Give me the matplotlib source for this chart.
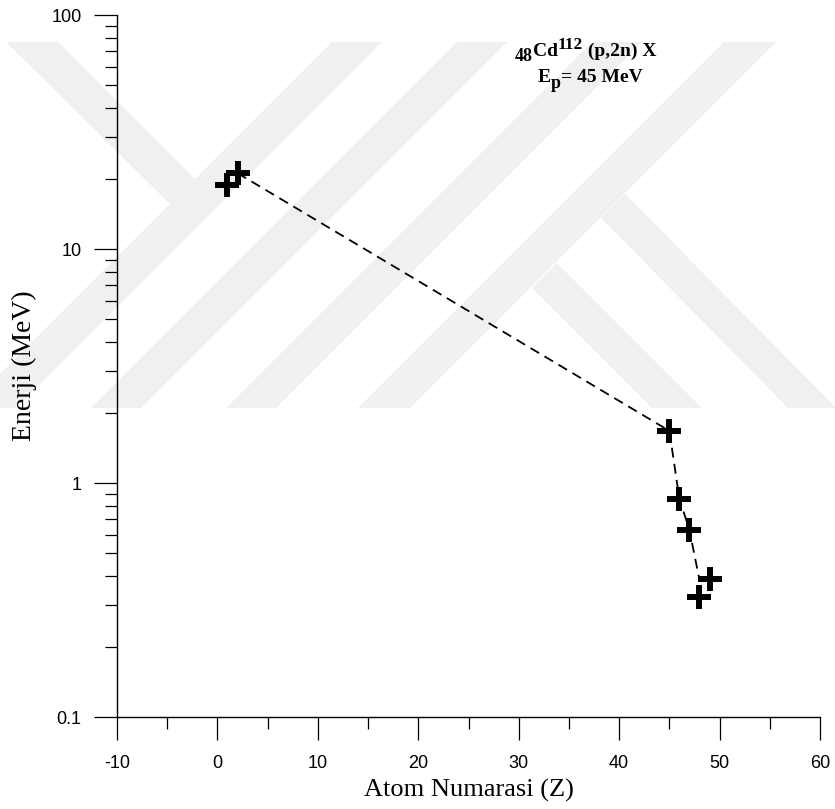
import numpy as np
import matplotlib.pyplot as plt
from matplotlib.patches import Polygon
from matplotlib.ticker import MultipleLocator, LogLocator, NullFormatter

# values
z_exp = [1, 2, 45, 46, 47, 48, 49]
e_exp = [18.8, 21.1, 1.67, 0.855, 0.63, 0.326, 0.389]
z_line = [2, 45, 46, 47, 48]
e_line = [21.1, 1.67, 0.855, 0.63, 0.385]

x_ticks = [-10, 0, 10, 20, 30, 40, 50, 60]
y_ticks = [0.1, 1, 10, 100]
y_labels = ['0.1', '1', '10', '100']

plt.rcParams['axes.unicode_minus'] = False

W, H = 835, 809
fig = plt.figure(figsize=(W / 100, H / 100), dpi=100)
ax = fig.add_axes([117 / W, 1 - 717 / H, (820 - 117) / W, (717 - 15) / H])
ax.set_facecolor('none')

# faint background watermark (diagonal bands), in figure pixels
def to_fig(pts):
    return [(x / W, 1 - y / H) for x, y in pts]

top, bot = 42, 408
h = bot - top
bands = [
    [(6, top), (58, top), (195, 179), (170, 204)],
    [(332, top), (382, top), (382 - h, bot), (332 - h, bot)],
    [(457, top), (507, top), (507 - h, bot), (457 - h, bot)],
    [(592, top), (642, top), (642 - h, bot), (592 - h, bot)],
    [(724, top), (776, top), (776 - h, bot), (724 - h, bot)],
    [(601, 218), (625, 194), (836, bot), (788, bot)],
    [(532, 288), (557, 263), (702, bot), (652, bot)],
]
for b in bands:
    fig.add_artist(Polygon(to_fig(b), closed=True, transform=fig.transFigure,
                           facecolor='#f0f0f0', edgecolor='none', zorder=-1))

ax.plot(z_line, e_line, color='black', lw=1.3, ls=(0, (5.5, 3.5)), zorder=2)
ax.plot(z_exp, e_exp, ls='none', marker='+', ms=17, mew=4.3, color='black', zorder=3)

ax.set_yscale('log')
ax.set_xlim(-10, 60)
ax.set_ylim(0.1, 100)
ax.set_xticks(x_ticks)
ax.set_yticks(y_ticks, y_labels)
ax.xaxis.set_minor_locator(MultipleLocator(5))
ax.yaxis.set_minor_locator(LogLocator(base=10, subs=np.arange(2, 10)))
ax.yaxis.set_minor_formatter(NullFormatter())

for s in ['top', 'right']:
    ax.spines[s].set_visible(False)
for s in ['left', 'bottom']:
    ax.spines[s].set_linewidth(1.0)

ax.tick_params(which='major', direction='out', length=16.5, width=0.9,
               labelsize=13, labelfontfamily='Liberation Sans')
ax.tick_params(which='minor', direction='out', length=8.6, width=0.9)
ax.tick_params(axis='y', which='major', pad=9)
ax.tick_params(axis='x', which='major', pad=11)

ax.set_xlabel('Atom Numarasi (Z)', fontsize=19, family='Liberation Serif', labelpad=5)
ax.set_ylabel('Enerji (MeV)', fontsize=20, family='Liberation Serif')
ax.yaxis.set_label_coords(-0.114, 0.5)

# reaction label, written piece by piece so sub/superscripts stay large
def chain(pieces, x, y):
    # pieces: (text, size, shift in points relative to the previous piece)
    s, size, _ = pieces[0]
    prev = ax.text(x, y, s, transform=ax.transAxes, va='bottom', ha='left',
                   fontsize=size, fontweight='bold', family='Liberation Serif')
    for s, size, dy in pieces[1:]:
        prev = ax.annotate(s, xy=(1, 0), xycoords=prev, xytext=(0, dy),
                           textcoords='offset points', va='bottom', ha='left',
                           fontsize=size, fontweight='bold', family='Liberation Serif')

chain([('48', 13, 0), ('Cd', 14, 3.5), ('112', 12.5, 5), (' (p,2n) X', 14, -5)],
      (515 - 117) / 703, (717 - 65) / 702)
chain([('E', 14, 0), ('p', 13, -4.5), ('= 45 MeV', 14, 4.5)],
      (538 - 117) / 703, (717 - 86) / 702)

fig.savefig('out.png', dpi=100)
